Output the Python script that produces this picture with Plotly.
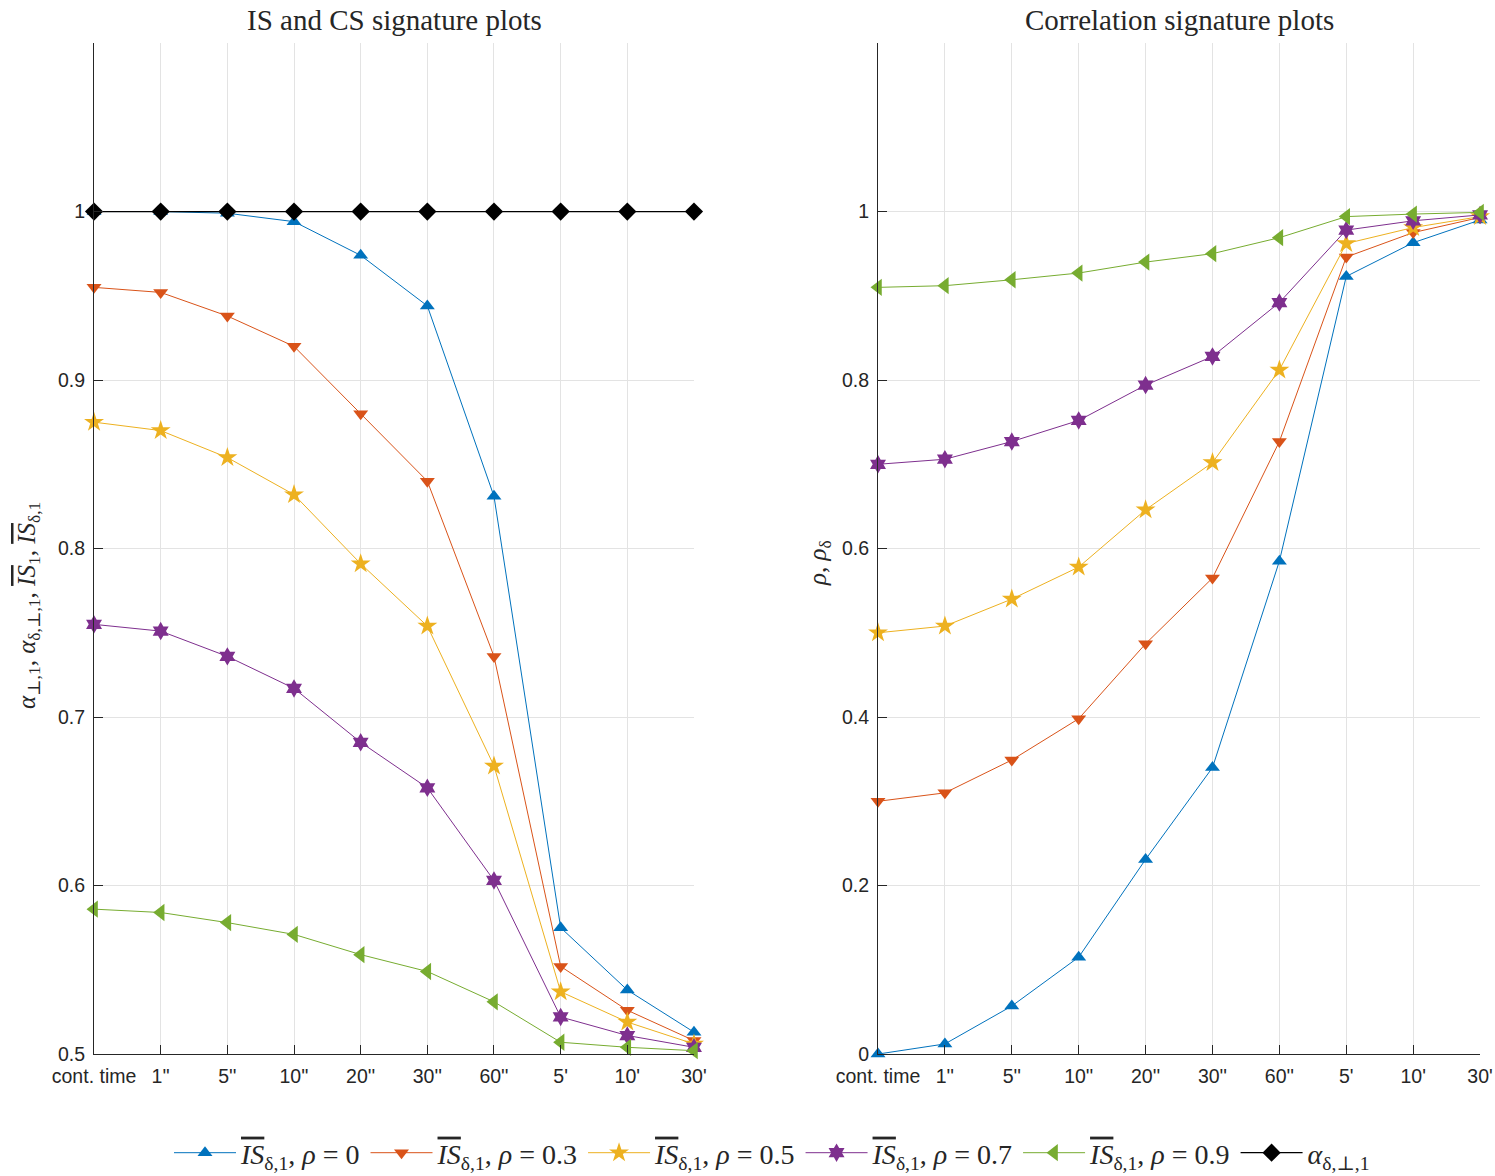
import plotly.graph_objects as go

x_labels = ["cont. time", "1''", "5''", "10''", "20''", "30''", "60''", "5'", "10'", "30'"]
rhos = ["0", "0.3", "0.5", "0.7", "0.9"]

# Left panel: IS signature values
is_rho0 = [1.000, 1.000, 0.999, 0.994, 0.974, 0.944, 0.831, 0.575, 0.538, 0.513]
is_rho3 = [0.955, 0.952, 0.938, 0.920, 0.880, 0.840, 0.736, 0.552, 0.526, 0.508]
is_rho5 = [0.875, 0.870, 0.854, 0.832, 0.791, 0.754, 0.671, 0.537, 0.519, 0.506]
is_rho7 = [0.755, 0.751, 0.736, 0.717, 0.685, 0.658, 0.603, 0.522, 0.511, 0.504]
is_rho9 = [0.586, 0.584, 0.578, 0.571, 0.559, 0.549, 0.531, 0.507, 0.504, 0.502]
alpha_cs = [1, 1, 1, 1, 1, 1, 1, 1, 1, 1]

# Right panel: correlation signature values
corr_rho0 = [0.000, 0.012, 0.057, 0.115, 0.231, 0.340, 0.585, 0.923, 0.963, 0.990]
corr_rho3 = [0.300, 0.310, 0.349, 0.398, 0.487, 0.565, 0.727, 0.946, 0.975, 0.993]
corr_rho5 = [0.500, 0.508, 0.540, 0.578, 0.646, 0.702, 0.812, 0.962, 0.981, 0.994]
corr_rho7 = [0.700, 0.706, 0.727, 0.752, 0.794, 0.828, 0.892, 0.978, 0.989, 0.996]
corr_rho9 = [0.910, 0.912, 0.919, 0.927, 0.940, 0.950, 0.969, 0.994, 0.997, 0.999]

colors = ["#0072BD", "#D95319", "#EDB120", "#7E2F8E", "#77AC30"]
symbols = ["triangle-up", "triangle-down", "star", "hexagram", "triangle-left"]
sizes = [13, 13, 15, 14, 15]

xs = list(range(len(x_labels)))
SERIF = "Liberation Serif, DejaVu Serif, serif"
SANS = "Liberation Sans, Arial, sans-serif"

OV = "<span style='text-decoration:overline'>IS</span>"

fig = go.Figure()
left_series = [is_rho0, is_rho3, is_rho5, is_rho7, is_rho9]
right_series = [corr_rho0, corr_rho3, corr_rho5, corr_rho7, corr_rho9]

for i in range(5):
    name = f"<i>{OV}</i><sub>δ,1</sub>, <i>ρ</i> = {rhos[i]}"
    fig.add_trace(go.Scatter(
        x=xs, y=left_series[i], mode="lines+markers", name=name,
        line=dict(color=colors[i], width=1),
        marker=dict(symbol=symbols[i], size=sizes[i], color=colors[i]),
        cliponaxis=False, xaxis="x", yaxis="y", legendgroup=str(i)))
    fig.add_trace(go.Scatter(
        x=xs, y=right_series[i], mode="lines+markers", name=name,
        line=dict(color=colors[i], width=1),
        marker=dict(symbol=symbols[i], size=sizes[i], color=colors[i]),
        cliponaxis=False, xaxis="x2", yaxis="y2", legendgroup=str(i), showlegend=False))

fig.add_trace(go.Scatter(
    x=xs, y=alpha_cs, mode="lines+markers", name="<i>α</i><sub>δ,⊥,1</sub>",
    line=dict(color="black", width=1.3),
    marker=dict(symbol="diamond", size=14, color="black"),
    cliponaxis=False, xaxis="x", yaxis="y"))

axis_common = dict(
    showgrid=True, gridcolor="#E3E3E3", gridwidth=1, zeroline=False,
    showline=True, linecolor="#262626", linewidth=1,
    ticks="inside", ticklen=9, tickcolor="#262626", automargin=False,
    tickfont=dict(family=SANS, size=19.5, color="#262626"),
)

H = 1176.0
fig.update_layout(
    width=1495, height=1176,
    margin=dict(l=0, r=0, t=0, b=0, autoexpand=False),
    plot_bgcolor="white", paper_bgcolor="white",
    xaxis=dict(domain=[0.0629, 0.4642], range=[0, 9], tickvals=xs, ticktext=x_labels,
               anchor="y", ticklabelstandoff=5, **axis_common),
    yaxis=dict(domain=[0.1037, 0.9634], range=[0.5, 1.1], tickvals=[0.5, 0.6, 0.7, 0.8, 0.9, 1],
               ticktext=["0.5", "0.6", "0.7", "0.8", "0.9", "1"], anchor="x", ticklabelstandoff=4,
               **axis_common),
    xaxis2=dict(domain=[0.5873, 0.99], range=[0, 9], tickvals=xs, ticktext=x_labels,
                anchor="y2", ticklabelstandoff=5, **axis_common),
    yaxis2=dict(domain=[0.1037, 0.9634], range=[0, 1.2], tickvals=[0, 0.2, 0.4, 0.6, 0.8, 1],
                ticktext=["0", "0.2", "0.4", "0.6", "0.8", "1"], anchor="x2", ticklabelstandoff=4,
                **axis_common),
    legend=dict(orientation="h", x=772 / 1495, xanchor="center", y=(H - 1153) / H, yanchor="middle",
                font=dict(family=SERIF, size=28, color="#262626"),
                itemwidth=62, bgcolor="rgba(0,0,0,0)", tracegroupgap=0),
    annotations=[
        dict(text="IS and CS signature plots", x=(0.0629 + 0.4642) / 2, y=(H - 20) / H,
             xref="paper", yref="paper", xanchor="center", yanchor="middle", showarrow=False,
             font=dict(family=SERIF, size=29, color="#262626")),
        dict(text="Correlation signature plots", x=(0.5873 + 0.99) / 2, y=(H - 20) / H,
             xref="paper", yref="paper", xanchor="center", yanchor="middle", showarrow=False,
             font=dict(family=SERIF, size=29, color="#262626")),
        dict(text=f"<i>α</i><sub>⊥,1</sub>, <i>α</i><sub>δ,⊥,1</sub>, <i>{OV}</i><sub>1</sub>, <i>{OV}</i><sub>δ,1</sub>",
             x=28 / 1495, y=(H - 606) / H, xref="paper", yref="paper", textangle=-90,
             xanchor="center", yanchor="middle", showarrow=False,
             font=dict(family=SERIF, size=25, color="#262626")),
        dict(text="<i>ρ</i>, <i>ρ</i><sub>δ</sub>",
             x=820 / 1495, y=(H - 563) / H, xref="paper", yref="paper", textangle=-90,
             xanchor="center", yanchor="middle", showarrow=False,
             font=dict(family=SERIF, size=25, color="#262626")),
    ],
)

fig.write_html("out.html", config={"displayModeBar": False},
               post_script="document.body.style.margin='0';document.body.style.overflow='hidden';")
